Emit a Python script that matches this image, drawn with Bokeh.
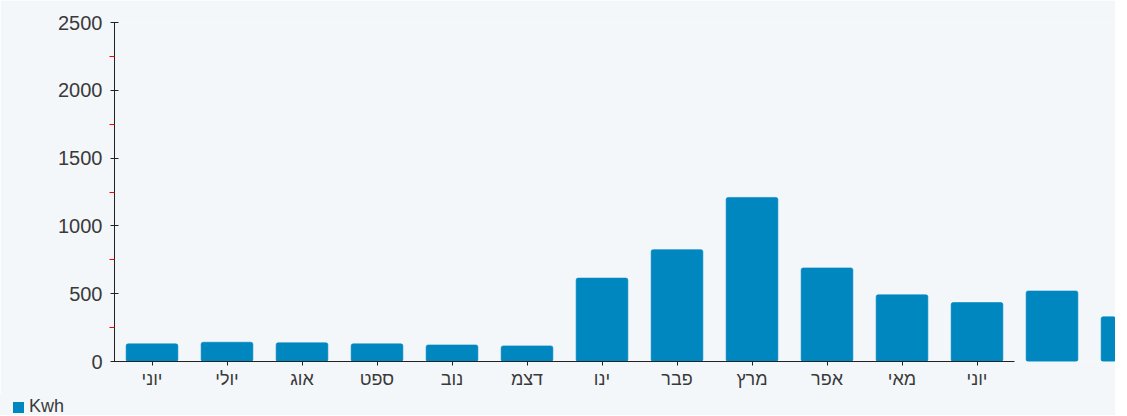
from bokeh.plotting import figure
from bokeh.models import ColumnDataSource, FixedTicker, Div
from bokeh.layouts import column
from bokeh.embed import file_html
from bokeh.resources import INLINE

# ---- data ----
months = ["יוני", "יולי", "אוג", "ספט", "נוב", "דצמ", "ינו", "פבר", "מרץ", "אפר", "מאי", "יוני"]
kwh = [130, 142, 138, 130, 122, 115, 615, 825, 1210, 690, 492, 435, 520, 330]
y_ticks = [0, 500, 1000, 1500, 2000, 2500]
y_minor = [250, 750, 1250, 1750, 2250]
series_name = "Kwh"

BAR = "#0087c0"
BG = "#f4f7fa"
TXT = "#3a3a3a"
FONT = "Liberation Sans"

xs = [i + 0.5 for i in range(len(kwh))]
src = ColumnDataSource(dict(x=xs, top=kwh))

W = 1115
p = figure(width=W, height=394, output_backend="svg", toolbar_location=None,
           x_range=(0, 1001 / 75.0), y_range=(0, 2500),
           min_border_left=114, min_border_right=0, min_border_top=22, min_border_bottom=33)
p.background_fill_color = BG
p.border_fill_color = BG
p.outline_line_color = None
p.grid.visible = False

r = p.vbar(x="x", top="top", width=0.69, source=src, fill_color=BAR, line_color=BAR,
           line_alpha=0.6, border_radius=2)

# x axis
xa = p.xaxis[0]
xa.ticker = FixedTicker(ticks=[i + 0.5 for i in range(len(months))])
xa.major_label_overrides = {i + 0.5: m for i, m in enumerate(months)}
xa.bounds = (0, len(months))
xa.axis_line_color = "#222222"
xa.major_tick_line_color = "#222222"
xa.major_tick_in = 0
xa.major_tick_out = 4
xa.minor_tick_line_color = None
xa.major_label_text_font = FONT
xa.major_label_text_font_size = "18px"
xa.major_label_text_color = TXT
xa.major_label_standoff = 3

# y axis
ya = p.yaxis[0]
ya.ticker = FixedTicker(ticks=y_ticks, minor_ticks=y_minor)
ya.bounds = (0, 2500)
ya.axis_line_color = "#222222"
ya.major_tick_line_color = "#222222"
ya.major_tick_in = 4
ya.major_tick_out = 4
ya.minor_tick_line_color = "#ff0000"
ya.minor_tick_in = 0
ya.minor_tick_out = 5
ya.major_label_text_font = FONT
ya.major_label_text_font_size = "20px"
ya.major_label_text_color = TXT
ya.major_label_standoff = 7

legend_div = Div(
    text=(f'<div style="font-family:\'{FONT}\';font-size:18px;color:{TXT};'
          f'line-height:18px;padding-left:13px;padding-top:3px;">'
          f'<span style="display:inline-block;width:11px;height:11px;background:{BAR};'
          f'margin-right:5px;vertical-align:-1px;"></span>{series_name}</div>'),
    width=W, height=21, margin=0,
    styles={"background-color": BG},
)

layout = column(p, legend_div, spacing=0)
open("out.html", "w").write(file_html(layout, INLINE))
